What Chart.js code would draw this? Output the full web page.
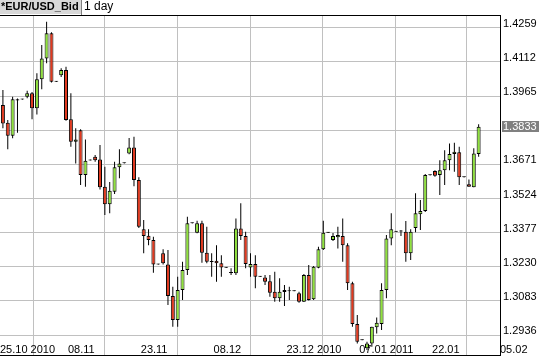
<!DOCTYPE html>
<html>
<head>
<meta charset="utf-8">
<script src="https://cdn.jsdelivr.net/npm/chart.js@4.4.1/dist/chart.umd.min.js"></script>
<style>
  html, body { margin: 0; padding: 0; background: #fff; }
  canvas { display: block; }
</style>
</head>
<body>
<canvas id="chart" width="545" height="357"></canvas>
<script>
// EUR/USD daily candles, 26.10.2010 .. 01.02.2011 (one per calendar day, Saturday = dash)
const firstDate = Date.UTC(2010, 9, 26);
const baseDate = Date.UTC(2010, 9, 25);

const opens = [
  1.3926, 1.3850, 1.3794, 1.3951, 1.3950, 1.3962, 1.3977, 1.3912, 1.4037, 1.4127,
  1.4235, 1.4027, 1.4055, 1.4077, 1.3865, 1.3768, 1.3818, 1.3625, 1.3688, 1.3704,
  1.3692, 1.3574, 1.3499, 1.3553, 1.3658, 1.3676, 1.3718, 1.3744, 1.3603, 1.3391,
  1.3364, 1.3345, 1.3240, 1.3288, 1.3240, 1.3104, 1.3001, 1.3130, 1.3216, 1.3417,
  1.3376, 1.3417, 1.3290, 1.3250, 1.3256, 1.3245, 1.3226, 1.3207, 1.3202, 1.3395,
  1.3362, 1.3227, 1.3242, 1.3187, 1.3184, 1.3168, 1.3122, 1.3094, 1.3121, 1.3125,
  1.3125, 1.3116, 1.3079, 1.3194, 1.3090, 1.3226, 1.3305, 1.3376, 1.3345, 1.3357,
  1.3362, 1.3323, 1.3159, 1.2983, 1.2914, 1.2879, 1.2900, 1.2969, 1.2983, 1.3130,
  1.3352, 1.3381, 1.3382, 1.3381, 1.3288, 1.3397, 1.3456, 1.3470, 1.3624, 1.3642,
  1.3625, 1.3646, 1.3689, 1.3715, 1.3723, 1.3615, 1.3585, 1.3572, 1.3715
];
const highs = [
  1.3991, 1.3862, 1.3962, 1.3954, 1.3951, 1.3988, 1.3982, 1.4063, 1.4185, 1.4285,
  1.4240, 1.4028, 1.4085, 1.4091, 1.3977, 1.3826, 1.3822, 1.3778, 1.3689, 1.3711,
  1.3754, 1.3661, 1.3595, 1.3682, 1.3736, 1.3677, 1.3784, 1.3790, 1.3615, 1.3431,
  1.3392, 1.3359, 1.3241, 1.3305, 1.3302, 1.3144, 1.3187, 1.3252, 1.3445, 1.3418,
  1.3428, 1.3428, 1.3402, 1.3288, 1.3323, 1.3280, 1.3227, 1.3224, 1.3438, 1.3503,
  1.3381, 1.3288, 1.3280, 1.3188, 1.3194, 1.3194, 1.3209, 1.3180, 1.3151, 1.3144,
  1.3126, 1.3122, 1.3199, 1.3237, 1.3233, 1.3316, 1.3428, 1.3377, 1.3375, 1.3402,
  1.3438, 1.3331, 1.3165, 1.3022, 1.2915, 1.2907, 1.2972, 1.3012, 1.3159, 1.3367,
  1.3460, 1.3382, 1.3388, 1.3427, 1.3392, 1.3546, 1.3517, 1.3629, 1.3625, 1.3646,
  1.3689, 1.3732, 1.3761, 1.3764, 1.3747, 1.3616, 1.3606, 1.3740, 1.3844
];
const lows = [
  1.3826, 1.3736, 1.3783, 1.3807, 1.3949, 1.3956, 1.3865, 1.3886, 1.3994, 1.4106,
  1.4023, 1.4026, 1.4047, 1.3859, 1.3747, 1.3675, 1.3582, 1.3574, 1.3687, 1.3682,
  1.3563, 1.3453, 1.3460, 1.3543, 1.3611, 1.3675, 1.3714, 1.3577, 1.3397, 1.3288,
  1.3323, 1.3204, 1.3239, 1.3240, 1.3065, 1.2972, 1.2972, 1.3087, 1.3194, 1.3416,
  1.3374, 1.3247, 1.3245, 1.3187, 1.3165, 1.3187, 1.3225, 1.3194, 1.3194, 1.3345,
  1.3224, 1.3187, 1.3137, 1.3186, 1.3151, 1.3101, 1.3079, 1.3079, 1.3061, 1.3087,
  1.3124, 1.3075, 1.3078, 1.3085, 1.3087, 1.3223, 1.3302, 1.3375, 1.3341, 1.3309,
  1.3252, 1.3130, 1.2972, 1.2900, 1.2913, 1.2871, 1.2886, 1.2943, 1.2958, 1.3094,
  1.3323, 1.3380, 1.3362, 1.3252, 1.3259, 1.3379, 1.3388, 1.3466, 1.3623, 1.3617,
  1.3539, 1.3582, 1.3646, 1.3639, 1.3582, 1.3614, 1.3574, 1.3572, 1.3704
];
const closes = [
  1.3847, 1.3794, 1.3951, 1.3946, 1.3950, 1.3977, 1.3912, 1.4037, 1.4127, 1.4235,
  1.4027, 1.4027, 1.4077, 1.3862, 1.3768, 1.3778, 1.3625, 1.3686, 1.3688, 1.3689,
  1.3572, 1.3499, 1.3557, 1.3658, 1.3675, 1.3676, 1.3744, 1.3603, 1.3402, 1.3362,
  1.3345, 1.3240, 1.3240, 1.3245, 1.3104, 1.3001, 1.3130, 1.3216, 1.3417, 1.3417,
  1.3417, 1.3290, 1.3252, 1.3255, 1.3245, 1.3227, 1.3226, 1.3203, 1.3395, 1.3362,
  1.3242, 1.3242, 1.3187, 1.3187, 1.3165, 1.3118, 1.3094, 1.3122, 1.3130, 1.3127,
  1.3125, 1.3079, 1.3194, 1.3087, 1.3230, 1.3305, 1.3376, 1.3376, 1.3362, 1.3367,
  1.3323, 1.3159, 1.2983, 1.2907, 1.2914, 1.2900, 1.2972, 1.2989, 1.3130, 1.3352,
  1.3391, 1.3381, 1.3384, 1.3288, 1.3381, 1.3460, 1.3470, 1.3625, 1.3624, 1.3622,
  1.3646, 1.3689, 1.3715, 1.3725, 1.3615, 1.3615, 1.3574, 1.3718, 1.3833
];

// axis ticks: days after 25.10.2010
const xTickDays = [0, 14, 29, 44, 59, 74, 89, 103];
const xTickLabels = ['25.10 2010', '08.11', '23.11', '08.12', '23.12 2010', '07.01 2011', '22.01', '05.02'];
const yTicks = [1.2936, 1.3083, 1.3230, 1.3377, 1.3524, 1.3671, 1.3818, 1.3965, 1.4112, 1.4259];
const yMin = 1.2850, yMax = 1.4314;

const GREEN = '#8fe23c';
const RED = '#e2391f';
const FONT = '"Liberation Sans", Arial, sans-serif';

const dayX = opens.map((o, i) => {
  const d = (firstDate - baseDate) / 86400000 + i;
  return d - 0.4;
});

const bodies = opens.map((o, i) => ({ x: dayX[i], y: [o, closes[i]] }));
const wicks = opens.map((o, i) => ({ x: dayX[i], y: [lows[i], highs[i]] }));
const bodyColors = opens.map((o, i) => closes[i] >= o ? GREEN : RED);

const decorations = {
  id: 'decorations',
  afterDraw(chart) {
    const { ctx, chartArea: a, scales } = chart;
    ctx.save();
    // frame
    ctx.fillStyle = '#000';
    ctx.fillRect(0, a.top, a.right + 1, 1);
    ctx.fillRect(a.right, a.top, 1, a.bottom - a.top + 1);
    ctx.fillRect(0, a.bottom, a.right + 1, 1);

    // last price box
    const last = closes[closes.length - 1];
    const py = Math.round(scales.y.getPixelForValue(last));
    ctx.fillStyle = '#808080';
    ctx.fillRect(a.right + 2, py - 6, 37, 11);
    ctx.fillStyle = '#fff';
    ctx.font = '11px ' + FONT;
    ctx.textBaseline = 'middle';
    ctx.textAlign = 'left';
    ctx.fillText(last.toFixed(4), a.right + 3, py);

    // header
    ctx.fillStyle = '#d8d8d8';
    ctx.fillRect(0, 0, 81, 14);
    ctx.fillStyle = '#808080';
    ctx.fillRect(81, 0, 1, 15);
    ctx.fillStyle = '#000';
    ctx.font = 'bold 11px ' + FONT;
    ctx.fillText('*EUR/USD_Bid', 1, 7);
    ctx.font = '12px ' + FONT;
    ctx.fillText('1 day', 84, 7);
    ctx.restore();
  }
};

Chart.defaults.font.family = FONT;
Chart.defaults.font.size = 11;
Chart.defaults.color = '#000';

new Chart(document.getElementById('chart'), {
  type: 'bar',
  data: {
    datasets: [
      {
        label: 'body',
        data: bodies,
        backgroundColor: bodyColors,
        borderColor: '#000',
        borderWidth: 1,
        borderSkipped: false,
        grouped: false,
        barPercentage: 0.82,
        categoryPercentage: 1,
        minBarLength: 1,
        inflateAmount: 0,
        order: 0
      },
      {
        label: 'wick',
        data: wicks,
        backgroundColor: '#000',
        borderWidth: 0,
        grouped: false,
        maxBarThickness: 1,
        minBarLength: 1,
        inflateAmount: 0,
        order: 1
      }
    ]
  },
  options: {
    responsive: false,
    animation: false,
    layout: { padding: { top: 15, left: 0, right: 0, bottom: 0 } },
    plugins: { legend: { display: false }, tooltip: { enabled: false } },
    scales: {
      x: {
        type: 'linear',
        min: 0,
        max: 103,
        offset: false,
        afterBuildTicks: s => { s.ticks = xTickDays.map(v => ({ value: v })); },
        afterFit: s => { s.height = 2; s.paddingLeft = 0; s.paddingRight = 0; },
        grid: {
          color: c => c.index === 0 ? 'rgba(0,0,0,0)' : '#c0c0c0',
          drawTicks: false
        },
        border: { display: false },
        ticks: {
          autoSkip: false,
          maxRotation: 0,
          align: 'start',
          mirror: true,
          padding: -2,
          callback: (v, i) => xTickLabels[i]
        }
      },
      y: {
        position: 'right',
        min: yMin,
        max: yMax,
        afterBuildTicks: s => { s.ticks = yTicks.map(v => ({ value: v })); },
        afterFit: s => { s.width = 45; s.paddingTop = 0; s.paddingBottom = 0; },
        grid: { color: '#c0c0c0', drawTicks: false },
        border: { display: false },
        ticks: {
          padding: 3,
          labelOffset: -4,
          callback: v => v.toFixed(4)
        }
      }
    }
  },
  plugins: [decorations]
});
</script>
</body>
</html>
